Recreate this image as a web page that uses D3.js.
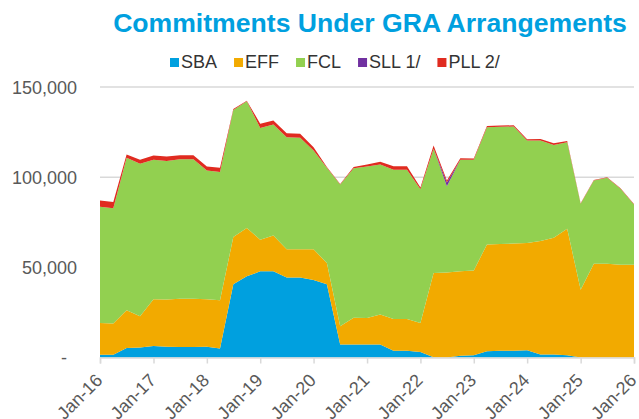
<!DOCTYPE html>
<html>
<head>
<meta charset="utf-8">
<script src="https://cdn.jsdelivr.net/npm/d3@7"></script>
<style>
  body { margin: 0; background: #fff; }
  svg { font-family: "Liberation Sans", Arial, sans-serif; }
</style>
</head>
<body>
<svg id="chart" width="639" height="419"></svg>
<script>
// quarterly commitments, SDR millions (Jan-16 .. Jan-26)
const sba = [1500,1500,5300,5600,6400,6000,5800,5800,5900,5000,
  40600,45000,47800,47800,44300,44300,43000,40600,7200,7200,
  7200,7200,3700,3700,3100,200,0,1000,1300,3500,
  3700,3700,4000,1600,1600,1300,0,0,0,0,0];
const eff = [17700,17300,20900,17300,25900,26100,26800,26800,26400,26700,
  26200,26800,17500,19900,15700,15700,17000,11800,10100,14900,
  14700,16600,17700,17700,16100,46700,47200,46800,47000,59200,
  59300,59500,59500,63000,64800,70100,37600,52000,52000,51500,51500];
const fcl = [64400,64000,84500,84500,77300,76900,77400,77400,71400,71100,
  70500,70300,62000,61500,62100,61800,54800,52800,78700,82900,
  84000,83200,82700,82700,74100,68800,47800,61800,61300,65000,
  64900,64900,56800,55700,51500,48000,47700,46200,47700,42100,33400];
const sll = [0,0,0,0,0,0,0,0,0,0,
  0,0,0,0,0,0,0,0,0,0,
  0,0,0,0,0,0,2000,0,0,0,
  0,0,0,0,0,0,0,0,0,0,0];
const pll = [3400,3400,1900,2200,2400,2400,2200,2200,2200,2400,
  500,300,2300,2200,2300,2300,1800,400,200,600,
  1100,1500,1900,1900,1000,1900,1200,900,700,700,
  700,700,700,900,900,700,200,200,200,200,200];

const seriesNames = ["SBA", "EFF", "FCL", "SLL 1/", "PLL 2/"];
const seriesColors = ["#00a0df", "#f2aa00", "#92d050", "#7030a0", "#e02b20"];
const yTicks = [0, 50000, 100000, 150000];
const xTickLabels = ["Jan-16","Jan-17","Jan-18","Jan-19","Jan-20","Jan-21",
  "Jan-22","Jan-23","Jan-24","Jan-25","Jan-26"];

const quarters = d3.timeMonths(new Date(2016, 0, 1), new Date(2026, 0, 2), 3);
const yearTicks = d3.timeYears(new Date(2016, 0, 1), new Date(2026, 0, 2));

const rows = quarters.map((q, i) => ({
  date: q, SBA: sba[i], EFF: eff[i], FCL: fcl[i], "SLL 1/": sll[i], "PLL 2/": pll[i]
}));

const svg = d3.select("#chart");
const plotLeft = 100, plotRight = 634, plotTop = 87, plotBottom = 357.5;

const x = d3.scaleTime().domain([quarters[0], quarters[quarters.length - 1]]).range([plotLeft, plotRight]);
const y = d3.scaleLinear().domain([0, 150000]).range([plotBottom, plotTop]);

// gridlines
svg.append("g")
  .selectAll("line")
  .data(yTicks.slice(1))
  .enter().append("line")
  .attr("x1", plotLeft).attr("x2", plotRight)
  .attr("y1", d => y(d)).attr("y2", d => y(d))
  .attr("stroke", "#d9d9d9").attr("stroke-width", 1.5);

const stacked = d3.stack().keys(seriesNames)(rows);

const area = d3.area()
  .x(d => x(d.data.date))
  .y0(d => y(d[0]))
  .y1(d => y(d[1]));

svg.append("g")
  .selectAll("path")
  .data(stacked)
  .enter().append("path")
  .attr("d", area)
  .attr("fill", (d, i) => seriesColors[i]);

// x axis
const xAxis = d3.axisBottom(x)
  .tickValues(yearTicks)
  .tickSize(6)
  .tickFormat((d, i) => xTickLabels[i]);

const gx = svg.append("g")
  .attr("transform", `translate(0,${plotBottom})`)
  .call(xAxis);
gx.select(".domain").attr("stroke", "#d9d9d9").attr("stroke-width", 1.5);
gx.selectAll(".tick line").attr("stroke", "#d9d9d9").attr("stroke-width", 1.5);
gx.selectAll(".tick text")
  .attr("font-size", 18)
  .attr("fill", "#595959")
  .attr("text-anchor", "end")
  .attr("x", 0).attr("y", 0).attr("dy", 0)
  .attr("transform", "translate(3,24) rotate(-45)");

// y axis labels
const yAxis = d3.axisLeft(y)
  .tickValues(yTicks)
  .tickSize(0)
  .tickFormat(d => d === 0 ? "-" : d3.format(",")(d));

const gy = svg.append("g")
  .attr("transform", "translate(77,0)")
  .call(yAxis);
gy.select(".domain").remove();
gy.selectAll(".tick text")
  .attr("font-size", 18)
  .attr("fill", "#595959")
  .attr("x", d => d === 0 ? -10 : 0)
  .attr("dy", "0.34em");

// title
svg.append("text")
  .attr("x", 370).attr("y", 32)
  .attr("text-anchor", "middle")
  .attr("font-size", 26.6)
  .attr("font-weight", "bold")
  .attr("fill", "#00a0df")
  .text("Commitments Under GRA Arrangements");

// legend
const legend = svg.append("g");
let lx = 170;
seriesNames.forEach((name, i) => {
  const item = legend.append("g").attr("transform", `translate(${lx},0)`);
  item.append("rect")
    .attr("x", 0).attr("y", 58)
    .attr("width", 9).attr("height", 9)
    .attr("fill", seriesColors[i]);
  const t = item.append("text")
    .attr("x", 11).attr("y", 68)
    .attr("font-size", 18)
    .attr("fill", "#333")
    .text(name);
  lx += 11 + t.node().getComputedTextLength() + 17;
});
</script>
</body>
</html>
